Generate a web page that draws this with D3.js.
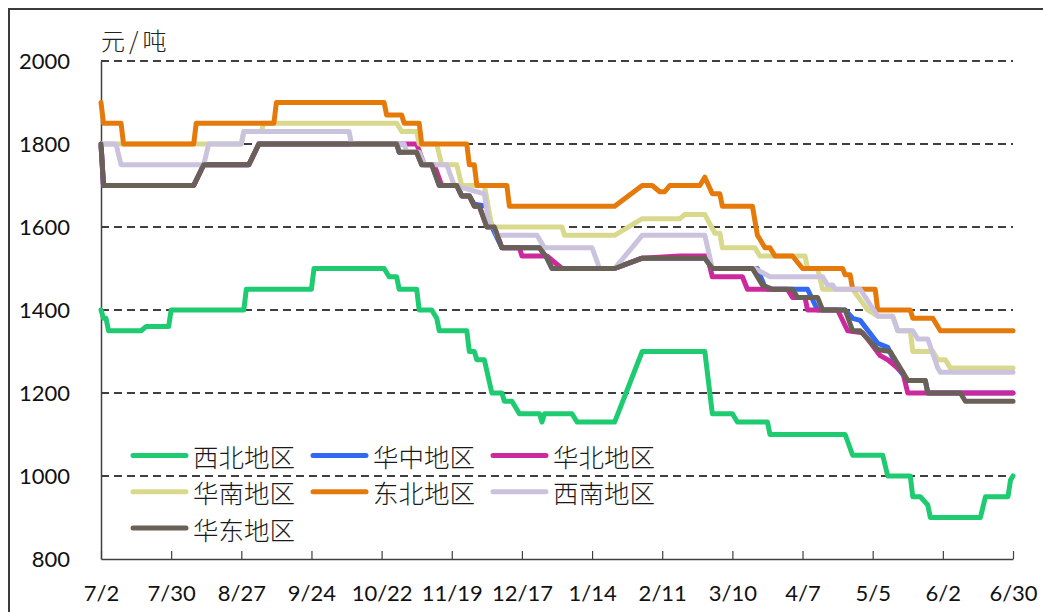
<!DOCTYPE html>
<html><head><meta charset="utf-8">
<script src="https://cdn.jsdelivr.net/npm/d3@7"></script>
<style>body{margin:0;background:#fff;}svg{display:block;}</style>
</head><body>
<svg id="chart" width="1043" height="612"></svg>
<script>
// ---------- data ----------
const tickLabels = ["7/2","7/30","8/27","9/24","10/22","11/19","12/17","1/14","2/11","3/10","4/7","5/5","6/2","6/30"];
const yTicks = [800,1000,1200,1400,1600,1800,2000];
const unitLabel = "元/吨";
const seriesNames = ["西北地区","华中地区","华北地区","华南地区","东北地区","西南地区","华东地区"];

const xibeiDates = ["7/2","7/3","7/4","7/5","7/18","7/20","7/29","7/30","8/28","8/29","9/24","9/25","10/23","10/25","10/28","10/29","11/5","11/6","11/11","11/13","11/14","11/25","11/26","11/28","11/29","12/2","12/5","12/9","12/10","12/13","12/16","12/24","12/25","12/26","1/6","1/8","1/23","2/3","2/28","3/2","3/10","3/12","3/24","3/25","4/24","4/27","5/9","5/11","5/20","5/21","5/24","5/27","5/28","6/17","6/19","6/28","6/29","6/30"];
const xibeiValues = [1400,1380,1380,1350,1350,1360,1360,1400,1400,1450,1450,1500,1500,1480,1480,1450,1450,1400,1400,1380,1350,1350,1300,1300,1280,1280,1200,1200,1180,1180,1150,1150,1130,1150,1150,1130,1130,1300,1300,1150,1150,1130,1130,1100,1100,1050,1050,1000,1000,950,950,930,900,900,950,950,990,1000];

const huazhongDates = ["7/2","7/3","8/8","8/12","8/30","9/3","10/28","10/29","11/5","11/7","11/11","11/14","11/21","11/23","11/26","11/28","12/3","12/5","12/9","12/24","12/27","12/29","1/23","2/3","2/28","3/2","3/20","3/23","3/24","4/9","4/13","4/24","4/27","4/30","5/7","5/11","5/15","5/19","5/26","5/27","6/30"];
const huazhongValues = [1800,1700,1700,1750,1750,1800,1800,1780,1780,1750,1750,1700,1700,1675,1675,1655,1650,1600,1550,1550,1525,1500,1500,1525,1525,1500,1500,1455,1450,1450,1400,1400,1380,1375,1320,1310,1260,1230,1230,1200,1200];

const huabeiDates = ["7/2","7/3","8/8","8/12","8/30","9/3","11/5","11/8","11/12","11/15","11/21","11/23","11/26","11/28","11/30","12/3","12/6","12/9","12/16","12/17","12/27","1/2","1/23","2/3","2/18","2/29","3/2","3/14","3/16","4/1","4/3","4/8","4/9","4/21","4/25","5/1","5/3","5/8","5/11","5/14","5/17","5/19","6/30"];
const huabeiValues = [1800,1700,1700,1750,1750,1800,1800,1750,1750,1700,1700,1675,1675,1650,1650,1600,1600,1550,1550,1530,1530,1500,1500,1525,1530,1530,1480,1480,1450,1450,1430,1430,1400,1400,1350,1345,1330,1290,1280,1265,1250,1200,1200];

const huananDates = ["7/2","8/27","8/28","9/4","9/5","10/28","10/30","11/5","11/6","11/13","11/15","11/21","11/23","12/2","12/5","1/2","1/3","1/23","2/3","2/18","2/20","2/28","3/3","3/5","3/6","3/19","3/21","4/8","4/9","4/13","4/15","4/27","5/3","5/7","5/13","5/15","5/20","5/21","5/29","5/31","6/3","6/5","6/30"];
const huananValues = [1800,1800,1830,1830,1850,1850,1830,1830,1800,1800,1750,1750,1700,1700,1600,1600,1580,1580,1620,1620,1630,1630,1585,1585,1550,1550,1530,1530,1500,1500,1450,1450,1400,1385,1385,1350,1350,1300,1300,1280,1280,1260,1260];

const dongbeiDates = ["7/2","7/3","7/10","7/11","8/8","8/9","9/9","9/10","10/23","10/24","10/30","10/31","11/6","11/7","11/25","11/26","11/28","11/29","12/11","12/12","1/23","2/3","2/7","2/10","2/12","2/14","2/26","2/28","3/2","3/5","3/6","3/18","3/20","3/23","3/25","3/27","4/3","4/7","4/23","4/24","4/26","4/27","5/6","5/7","5/20","5/21","5/29","6/1","6/30"];
const dongbeiValues = [1900,1850,1850,1800,1800,1850,1850,1900,1900,1870,1870,1850,1850,1800,1800,1750,1750,1700,1700,1650,1650,1700,1700,1685,1685,1700,1700,1720,1680,1680,1650,1650,1580,1550,1550,1530,1530,1500,1500,1485,1485,1450,1450,1400,1400,1380,1380,1350,1350];

const xinanDates = ["7/2","7/8","7/10","8/12","8/14","8/27","8/28","10/9","10/10","10/31","11/1","11/6","11/8","11/17","11/20","11/26","12/2","12/4","12/6","12/7","12/23","12/26","1/14","1/17","1/23","2/3","2/28","3/2","3/19","3/25","4/15","4/17","4/19","4/20","4/30","5/7","5/13","5/15","5/21","5/23","5/27","5/31","6/1","6/30"];
const xinanValues = [1800,1800,1750,1750,1800,1800,1830,1830,1800,1800,1780,1780,1750,1750,1700,1690,1680,1600,1600,1580,1580,1550,1550,1500,1500,1580,1580,1500,1500,1480,1480,1460,1460,1450,1450,1385,1385,1350,1350,1330,1330,1260,1250,1250];

const huadongDates = ["7/2","7/3","8/8","8/12","8/30","9/3","10/28","10/29","11/5","11/7","11/11","11/14","11/21","11/23","11/26","11/28","11/30","12/3","12/6","12/9","12/24","12/27","12/29","1/23","2/3","2/28","3/2","3/18","3/22","3/26","4/3","4/5","4/13","4/15","4/24","4/27","4/30","5/7","5/12","5/18","5/19","5/26","5/27","6/9","6/11","6/30"];
const huadongValues = [1800,1700,1700,1750,1750,1800,1800,1780,1780,1750,1750,1700,1700,1675,1675,1650,1650,1600,1600,1550,1550,1525,1500,1500,1525,1525,1500,1500,1460,1450,1450,1430,1430,1400,1400,1350,1350,1305,1300,1240,1230,1230,1200,1200,1180,1180];

const seriesColors = ["#1ecb70","#3169f5","#cc2a9c","#d9d98e","#e57a0b","#cbc3dd","#696056"];

// ---------- build ----------
const parseMD = s => { const [m, d] = s.split("/").map(Number); return new Date(Date.UTC(m >= 7 ? 2023 : 2024, m - 1, d)); };
const series = [
  [xibeiDates, xibeiValues], [huazhongDates, huazhongValues], [huabeiDates, huabeiValues],
  [huananDates, huananValues], [dongbeiDates, dongbeiValues], [xinanDates, xinanValues],
  [huadongDates, huadongValues]
].map(([ds, vs], i) => ({ name: seriesNames[i], color: seriesColors[i], points: ds.map((d, j) => ({ date: parseMD(d), value: vs[j] })) }));

const svg = d3.select("#chart");
const L = 101, R = 1013, T = 61, B = 559;
const x = d3.scaleUtc().domain([parseMD(tickLabels[0]), parseMD(tickLabels[tickLabels.length - 1])]).range([L, R]);
const y = d3.scaleLinear().domain([800, 2000]).range([B, T]);

svg.append("rect").attr("width", 1043).attr("height", 612).attr("fill", "#fff");
// outer frame (left and top visible)
svg.append("rect").attr("x", 9).attr("y", 9).attr("width", 1100).attr("height", 700)
  .attr("fill", "none").attr("stroke", "#3a3a3a").attr("stroke-width", 2);

// gridlines
svg.append("g").selectAll("line").data(yTicks.filter(v => v > 800)).join("line")
  .attr("x1", L).attr("x2", R).attr("y1", d => y(d)).attr("y2", d => y(d))
  .attr("stroke", "#000").attr("stroke-width", 1.5).attr("stroke-dasharray", "8,5");

const axisFont = "Lato, 'Open Sans', sans-serif";
// y axis
const yAxis = svg.append("g").attr("transform", `translate(${L},0)`)
  .call(d3.axisLeft(y).tickValues(yTicks).tickSize(0).tickSizeOuter(0).tickPadding(31).tickFormat(d3.format("d")));
yAxis.select(".domain").attr("stroke", "#404040").attr("stroke-width", 1.5);
yAxis.selectAll("text").attr("font-family", axisFont).attr("font-size", 22).attr("fill", "#111");

// x axis
const xAxis = svg.append("g").attr("transform", `translate(0,${B})`)
  .call(d3.axisBottom(x).tickValues(tickLabels.map(parseMD)).tickSizeInner(-8).tickSizeOuter(0).tickPadding(26)
    .tickFormat((d, i) => tickLabels[i]));
xAxis.select(".domain").attr("stroke", "#404040").attr("stroke-width", 1.5);
xAxis.selectAll(".tick line").attr("stroke", "#404040").attr("stroke-width", 1.2);
xAxis.selectAll("text").attr("font-family", axisFont).attr("font-size", 22).attr("fill", "#111");

// unit label
svg.append("text").attr("x", 101).attr("y", 50).text(unitLabel)
  .attr("font-family", "'Noto Sans CJK SC', sans-serif").attr("font-weight", 300)
  .attr("font-size", 24).attr("letter-spacing", 4).attr("fill", "#222");

// lines
const line = d3.line().x(d => x(d.date)).y(d => y(d.value));
svg.append("g").selectAll("path").data(series).join("path")
  .attr("d", d => line(d.points)).attr("fill", "none")
  .attr("stroke", d => d.color).attr("stroke-width", 5)
  .attr("stroke-linejoin", "round").attr("stroke-linecap", "round");

// legend
const legend = svg.append("g");
series.forEach((s, i) => {
  const col = i % 3, row = Math.floor(i / 3);
  const lx = 133 + col * 180, ly = 455.5 + row * 36.3;
  legend.append("line").attr("x1", lx).attr("x2", lx + 53).attr("y1", ly).attr("y2", ly)
    .attr("stroke", s.color).attr("stroke-width", 5).attr("stroke-linecap", "round");
  legend.append("text").attr("x", lx + 60).attr("y", ly).attr("dominant-baseline", "central")
    .attr("font-family", "'Noto Sans CJK SC', sans-serif").attr("font-weight", 300)
    .attr("font-size", 25.5).attr("fill", "#1a1a1a").text(s.name);
});
</script>
</body></html>
